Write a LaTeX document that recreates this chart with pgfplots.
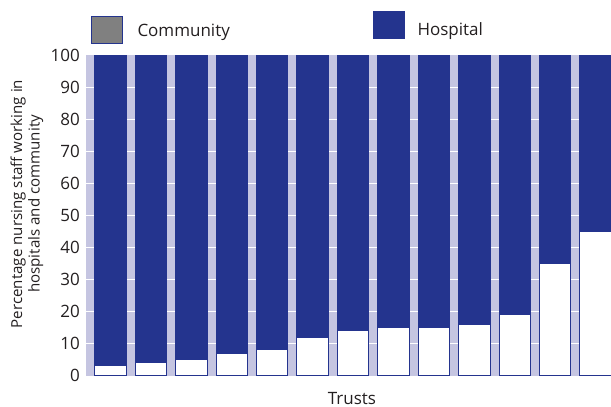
\documentclass[border=0pt]{standalone}
\usepackage{fontspec}
\setmainfont{Open Sans}
\usepackage{pgfplots}
\pgfplotsset{compat=1.18}

\definecolor{navy}{HTML}{24348E}
\definecolor{lav}{HTML}{C5C5E1}
\definecolor{boxgray}{HTML}{808080}
\definecolor{txt}{HTML}{231F20}

\begin{document}
\fontsize{17}{18}\selectfont
\begin{tikzpicture}[x=1pt,y=1pt]
\useasboundingbox (0,0) rectangle (611,407);
\begin{axis}[
  at={(86pt,30.9pt)}, anchor=south west,
  scale only axis, width=525pt, height=320.6pt,
  xmin=0.394, xmax=13.38, ymin=-0.2, ymax=100,
  ybar stacked, bar width=0.78,
  axis background/.style={fill=lav},
  axis line style={draw=none},
  ymajorgrids, grid style={white, line width=1.1pt},
  xtick=\empty,
  ytick={10,20,...,90},
  extra y ticks={0,100},
  extra y tick style={grid=none},
  major tick length=0pt,
  tick style={draw=none},
  /pgf/number format/assume math mode=true,
  yticklabel style={inner sep=0pt, xshift=-6pt, text=txt,
    font=\fontsize{17}{18}\selectfont},
  xlabel={Trusts},
  xlabel style={at={(axis description cs:0.5,0)}, anchor=base,
    yshift=-28pt, xshift=3.5pt, inner sep=0pt, text=txt,
    font=\fontsize{17}{18}\selectfont},
  ylabel={Percentage nursing staff working in\\hospitals and community},
  ylabel style={at={(axis description cs:-0.1124,0.537)}, anchor=center,
    align=center, inner sep=0pt, text=txt,
    font=\fontsize{15.1}{17.5}\selectfont},
]
% community share (white) at the bottom, hospital share (navy) on top
\addplot[fill=white, draw=navy, line width=1pt] coordinates {
  (1,3) (2,4) (3,5) (4,7) (5,8) (6,12) (7,14)
  (8,15) (9,15) (10,16) (11,19) (12,35) (13,45)};
\addplot[fill=navy, draw=navy, line width=1pt] coordinates {
  (1,97) (2,96) (3,95) (4,93) (5,92) (6,88) (7,86)
  (8,85) (9,85) (10,84) (11,81) (12,65) (13,55)};
\end{axis}
% key
\draw[navy, line width=1pt, fill=boxgray] (91.5,363.2) rectangle (122,390.5);
\node[anchor=base west, inner sep=0pt, text=txt] at (137.3,370.3) {Community};
\fill[navy] (373.3,367.7) rectangle (405,396);
\node[anchor=base west, inner sep=0pt, text=txt] at (417.3,371) {Hospital};
\end{tikzpicture}
\end{document}
